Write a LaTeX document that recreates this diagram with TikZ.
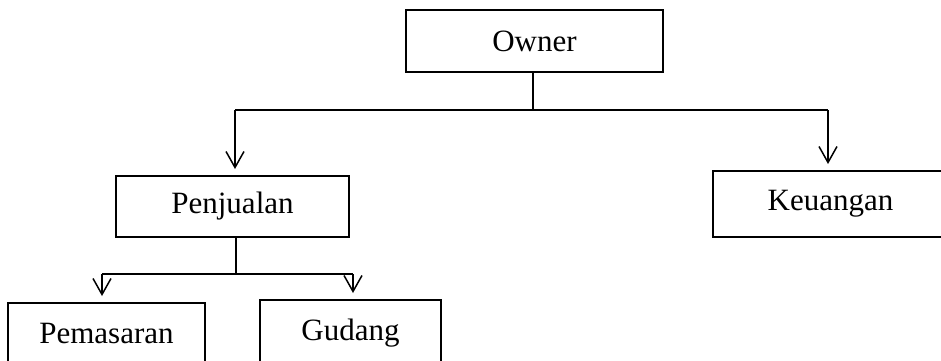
\documentclass[tikz,border=0pt]{standalone}
\usepackage{fontspec}
\setmainfont{Liberation Serif}
\usetikzlibrary{arrows.meta}
\begin{document}
\begin{tikzpicture}[x=1pt,y=-1pt,
  box/.style={draw,line width=2pt,inner sep=0pt,font=\fontsize{31}{37}\selectfont},
  conn/.style={line width=2.2pt},
  arr/.style={line width=2.2pt,-{Straight Barb[length=16pt,width=18pt,line width=1.5pt]},shorten >=6pt}]
\useasboundingbox (0,0) rectangle (941,360);
\clip (0,0) rectangle (941,360);
\node[box,minimum width=257pt,minimum height=62pt] (owner) at (534.5,41) {Owner};
\node[box,minimum width=233pt,minimum height=61pt] (pen) at (232.5,206.5) {Penjualan};
\node[box,minimum width=235pt,minimum height=66pt] (keu) at (830.5,204) {Keuangan};
\node[box,minimum width=197pt,minimum height=60pt] (pem) at (106.5,333) {Pemasaran\hspace{19pt}};
\node[box,minimum width=181pt,minimum height=66pt] (gud) at (350.5,333) {Gudang};
\coordinate (jl) at (235,110);
\coordinate (jr) at (828,110);
\coordinate (jm) at (533,110);
\coordinate (kl) at (102,274);
\coordinate (kr) at (353,274);
\coordinate (km) at (236,274);
\draw[conn] (jm |- owner.south) -- (jm);
\draw[conn] (jl) -- (jr);
\draw[arr] (jl) -- (jl |- pen.north);
\draw[arr] (jr) -- (jr |- keu.north);
\draw[conn] (km |- pen.south) -- (km);
\draw[conn] (kl) -- (kr);
\draw[arr] (kl) -- (kl |- pem.north);
\draw[arr] (kr) -- (kr |- gud.north);
\end{tikzpicture}
\end{document}
